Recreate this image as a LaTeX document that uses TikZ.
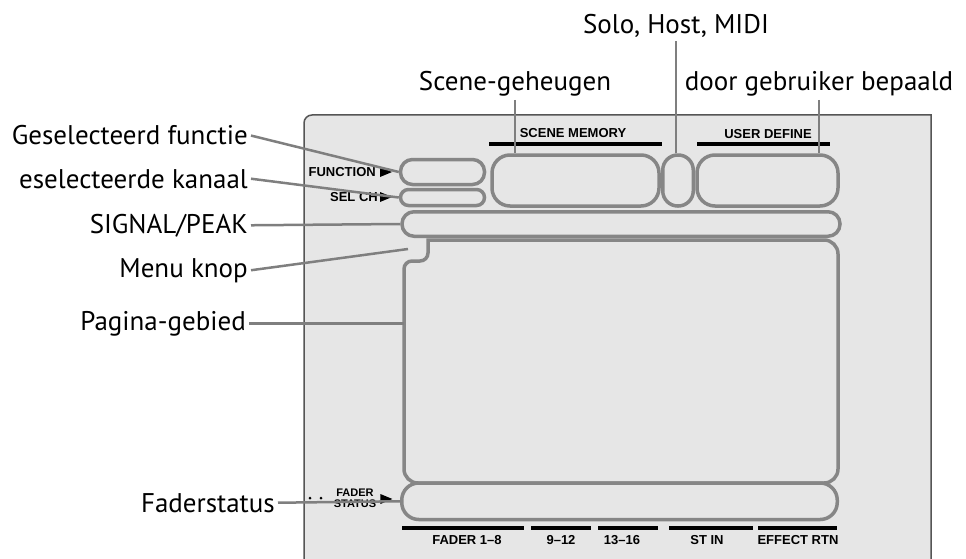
\documentclass[tikz,border=0pt]{standalone}
\usepackage{fontspec}
\setmainfont{PT Sans}
\newfontfamily\panelfont{Liberation Sans}
\usepackage{tikz}
\usetikzlibrary{calc}
\definecolor{panelGray}{HTML}{E6E6E6}
\definecolor{edgeGray}{HTML}{555555}
\definecolor{boxGray}{HTML}{868686}
\definecolor{leadGray}{HTML}{7F7F7F}
\newcommand\pointer[1]{\fill (#1) -- ++(0,-5) -- ++(12,5) -- ++(-12,5) -- cycle;}

\begin{document}
\begin{tikzpicture}[x=1pt,y=-1pt,
  lbl/.style={font=\fontsize{27}{30}\selectfont,inner sep=3pt},
  tag/.style={font=\panelfont\bfseries\fontsize{13}{14}\selectfont,inner sep=0pt},
  seg/.style={draw=boxGray,line width=3.5pt,inner sep=0pt},
  lead/.style={draw=leadGray,line width=2.5pt},
  bar/.style={line width=3.5pt}]
\useasboundingbox (0,0) rectangle (966,559);
% display panel
\filldraw[fill=panelGray,draw=edgeGray,line width=1.5pt] (304,559) -- (304,123)
  arc[start angle=180,end angle=270,radius=8] -- (931,115) -- (931,559);
% segments of the display
\node[seg,rounded corners=12pt,minimum width=84pt,minimum height=25pt] (fnbox) at (442.5,172) {};
\node[seg,rounded corners=8pt,minimum width=84pt,minimum height=16pt] (selbox) at (442.5,197.5) {};
\node[seg,rounded corners=18pt,minimum width=167pt,minimum height=51pt] (scenebox) at (575.5,180.5) {};
\node[seg,rounded corners=15pt,minimum width=30.5pt,minimum height=51pt] (solobox) at (678,180.5) {};
\node[seg,rounded corners=18pt,minimum width=141pt,minimum height=51pt] (userbox) at (767.5,180.5) {};
\node[seg,rounded corners=12pt,minimum width=438pt,minimum height=24.5pt] (sigbar) at (621,224) {};
\node[seg,rounded corners=17pt,minimum width=435.5pt,minimum height=36.5pt] (faderbar) at (619.5,501.25) {};
% page area with the menu notch
\draw[draw=boxGray,line width=3.5pt] (428,240) -- (824,240) arc[start angle=-90,end angle=0,radius=14]
  -- (838,469) arc[start angle=0,end angle=90,radius=14]
  -- (418,483) arc[start angle=90,end angle=180,radius=14]
  -- (404,269) arc[start angle=180,end angle=270,radius=8]
  -- (420,261) arc[start angle=90,end angle=0,radius=8] -- cycle;
\coordinate (knop) at (408,249);
\coordinate (pagearea) at (404,320);
% printed panel texts
\draw[bar] (489,144) -- (662,144);
\draw[bar] (697,144) -- (830,144);
\node[tag] (tagscene) at (573,133) {SCENE MEMORY};
\node[tag] (taguser) at (768,134) {USER DEFINE};
\node[tag,anchor=east] (tagfunc) at (376,172) {FUNCTION};
\pointer{$(tagfunc.east)+(4,0)$}
\node[tag,anchor=east] (tagsel) at (378,197) {SEL CH};
\pointer{$(tagsel.east)+(2,0)$}
\node[tag,font=\panelfont\bfseries\fontsize{11}{11}\selectfont,align=center] (tagfader) at (355,498) {FADER\\STATUS};
\pointer{$(tagfader.east)+(4,1)$}
\fill (310,498) circle[radius=1.5] (321,498) circle[radius=1.5];
\draw[bar] (402,528) -- (524,528);
\draw[bar] (531,528) -- (591,528);
\draw[bar] (598,528) -- (658,528);
\draw[bar] (669,528) -- (753,528);
\draw[bar] (758,528) -- (837,528);
\node[tag] (tagf18) at (467,540) {FADER 1–8};
\node[tag] (tagf912) at (561,540) {9–12};
\node[tag] (tagf1316) at (622,540) {13–16};
\node[tag] (tagstin) at (707,540) {ST IN};
\node[tag] (tagfx) at (798,540) {EFFECT RTN};
% callouts
\node[lbl,anchor=base] (lblsolo) at (676,34) {Solo, Host, MIDI};
\node[lbl,anchor=base] (lblscene) at (515,91) {Scene-geheugen};
\node[lbl,anchor=base] (lbluser) at (819,91) {door gebruiker bepaald};
\node[lbl,anchor=base east] (lblfunc) at (251,145) {Geselecteerd functie};
\node[lbl,anchor=base east] (lblsel) at (251,188) {eselecteerde kanaal};
\node[lbl,anchor=base east] (lblsig) at (251,233) {SIGNAL/PEAK};
\node[lbl,anchor=base east] (lblmenu) at (251,277) {Menu knop};
\node[lbl,anchor=base east] (lblpage) at (249,330) {Pagina-gebied};
\node[lbl,anchor=base east] (lblfader) at (278,512) {Faderstatus};
\draw[lead] (lblscene.south) -- (lblscene.south |- scenebox.north);
\draw[lead] (lblsolo.south) -- (lblsolo.south |- solobox.north);
\draw[lead] (lbluser.south) -- (lbluser.south |- userbox.north);
\draw[lead] (lblfunc.east) -- (fnbox.west);
\draw[lead] (lblsel.east) -- (selbox.west);
\draw[lead] (lblsig.east) -- (sigbar.west);
\draw[lead] (lblmenu.east) -- (knop);
\draw[lead] (lblpage.east) -- (lblpage.east -| pagearea);
\draw[lead] (lblfader.east) -- (faderbar.west);
\end{tikzpicture}
\end{document}
